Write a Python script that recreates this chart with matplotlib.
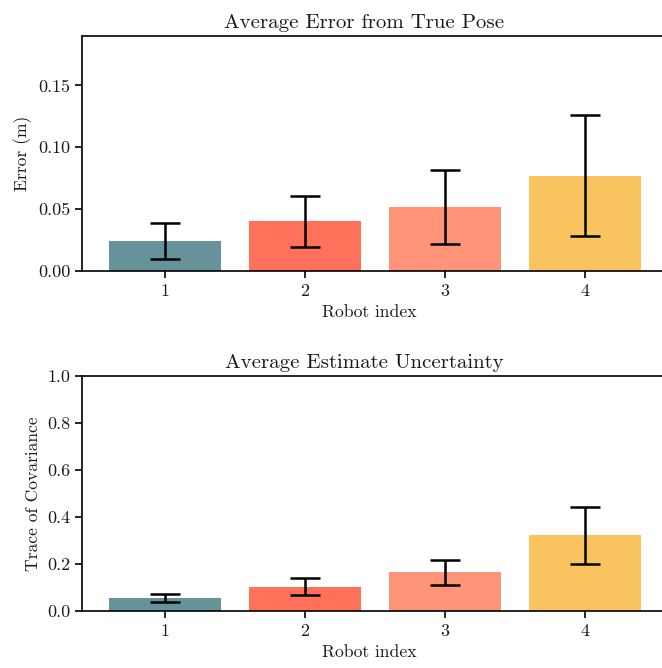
import numpy as np
import matplotlib
matplotlib.use("Agg")
import matplotlib.pyplot as plt

plt.rcParams['font.family'] = ['cmr10', 'DejaVu Serif']
plt.rcParams['mathtext.fontset'] = 'cm'
plt.rcParams['axes.formatter.use_mathtext'] = True
plt.rcParams['axes.unicode_minus'] = False
plt.rcParams['text.color'] = '#1a1a1a'
plt.rcParams['axes.labelcolor'] = '#1a1a1a'
plt.rcParams['xtick.labelcolor'] = '#1a1a1a'
plt.rcParams['ytick.labelcolor'] = '#1a1a1a'

robots = [1, 2, 3, 4]
colors = ['#659399', '#FF715B', '#FF9479', '#F9C460']

# error from true pose (m)
err_mean = [0.0242, 0.0401, 0.0519, 0.0771]
err_std = [0.0148, 0.0207, 0.0300, 0.0488]

# trace of covariance
cov_mean = [0.054, 0.104, 0.164, 0.323]
cov_std = [0.017, 0.036, 0.052, 0.121]

W, H = 662, 668
fig = plt.figure(figsize=(W / 100, H / 100), dpi=100)

def box(l, r, t, b):
    return [l / W, 1 - b / H, (r - l) / W, (b - t) / H]

ax1 = fig.add_axes(box(82, 668, 36, 271))
ax2 = fig.add_axes(box(82, 668, 376, 611))

for ax, m, s, ylim, yl, title in [
        (ax1, err_mean, err_std, (0, 0.19), 'Error (m)', 'Average Error from True Pose'),
        (ax2, cov_mean, cov_std, (0, 1.0), 'Trace of Covariance', 'Average Estimate Uncertainty')]:
    ax.bar(robots, m, width=0.8, color=colors, yerr=s, capsize=11,
           error_kw=dict(elinewidth=1.8, capthick=1.8, ecolor='black'))
    ax.set_xlim(0.407, 4.593)
    ax.set_ylim(*ylim)
    ax.set_xticks(robots)
    ax.set_title(title, fontsize=15, x=0.482)
    ax.set_ylabel(yl, fontsize=12.6)
    ax.set_xlabel('Robot index', fontsize=12.7)
    ax.xaxis.label.set_x(0.491)
    ax.tick_params(labelsize=13, width=1.2, length=5)
    for sp in ax.spines.values():
        sp.set_linewidth(1.2)

ax1.set_yticks([0.0, 0.05, 0.10, 0.15])
ax1.set_yticklabels(['0.00', '0.05', '0.10', '0.15'])
ax2.set_yticks([0.0, 0.2, 0.4, 0.6, 0.8, 1.0])
ax2.set_yticklabels(['0.0', '0.2', '0.4', '0.6', '0.8', '1.0'])

fig.savefig('out.png', dpi=100)
